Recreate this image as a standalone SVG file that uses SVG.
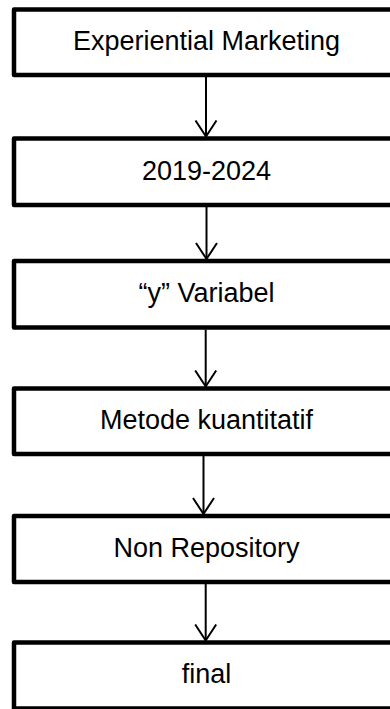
<svg xmlns="http://www.w3.org/2000/svg" width="390" height="709" viewBox="0 0 390 709">
<style>
.box{fill:#fff;stroke:#000;stroke-width:4.5;stroke-linejoin:round}
.lbl{font-family:"Liberation Sans",Arial,sans-serif;font-size:27px;fill:#000;text-anchor:middle}
.conn{stroke:#000;stroke-width:2;fill:none}
</style>
<defs>
<marker id="arr" markerUnits="userSpaceOnUse" markerWidth="22" markerHeight="24" refX="17" refY="11" orient="auto" viewBox="0 0 22 24">
<path d="M1,0.5 L17,11 L1,21.5" fill="none" stroke="#000" stroke-width="2"/>
</marker>
</defs>
<rect width="390" height="709" fill="#fff"/>
<g id="n1"><rect class="box" x="14" y="9.5" width="400" height="65.5"/><text class="lbl" x="206.5" y="50">Experiential Marketing</text></g>
<g id="n2"><rect class="box" x="14" y="138.5" width="400" height="66.5"/><text class="lbl" x="206.5" y="179.5">2019-2024</text></g>
<g id="n3"><rect class="box" x="14" y="261" width="400" height="66.5"/><text class="lbl" x="206.5" y="302">“y” Variabel</text></g>
<g id="n4"><rect class="box" x="14" y="388.5" width="400" height="65.5"/><text class="lbl" x="206.5" y="429">Metode kuantitatif</text></g>
<g id="n5"><rect class="box" x="14" y="516" width="400" height="66"/><text class="lbl" x="206.5" y="557">Non Repository</text></g>
<g id="n6"><rect class="box" x="14" y="642.5" width="400" height="66"/><text class="lbl" x="206.5" y="683">final</text></g>
<g id="connectors">
<line class="conn" x1="206" y1="77" x2="206" y2="136.5" marker-end="url(#arr)"/>
<line class="conn" x1="206.5" y1="207" x2="206.5" y2="259" marker-end="url(#arr)"/>
<line class="conn" x1="205.7" y1="329.5" x2="205.7" y2="386.5" marker-end="url(#arr)"/>
<line class="conn" x1="203.5" y1="456" x2="203.5" y2="514" marker-end="url(#arr)"/>
<line class="conn" x1="205.7" y1="584" x2="205.7" y2="640.5" marker-end="url(#arr)"/>
</g>
</svg>
